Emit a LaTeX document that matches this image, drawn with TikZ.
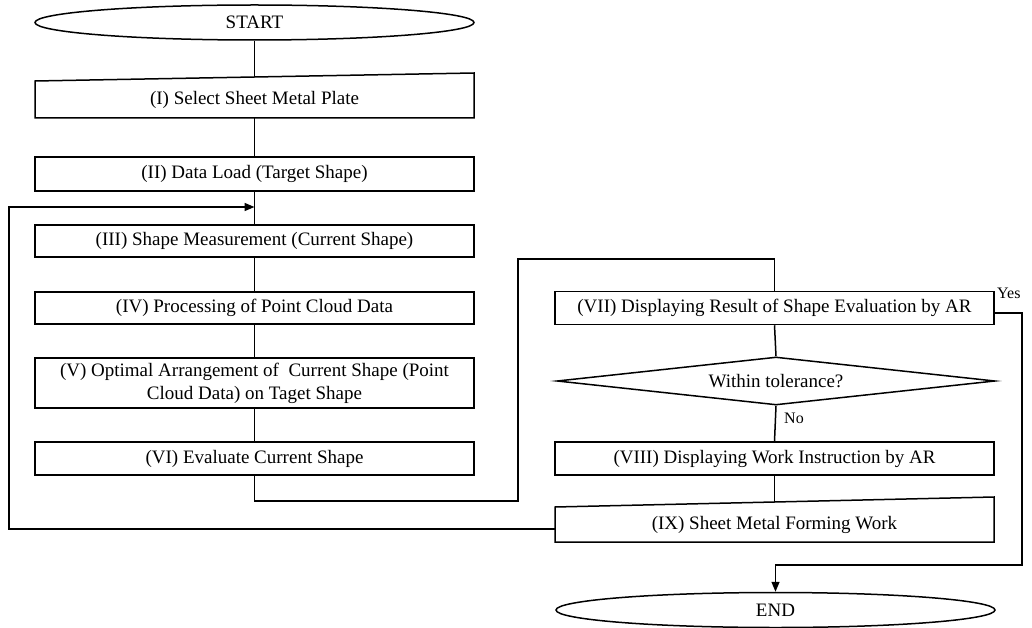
\documentclass[tikz,border=0pt]{standalone}
\usepackage{fontspec}
\setmainfont{Liberation Serif}
\usetikzlibrary{arrows.meta,shapes.geometric}
\begin{document}
\begin{tikzpicture}[x=1pt,y=-1pt,
  every node/.style={font=\fontsize{19}{23}\selectfont, inner sep=0pt},
  line/.style={line width=1.5pt, line join=miter},
  procbox/.style={draw, line width=1.5pt, rectangle, minimum width=439pt, align=center},
  term/.style={draw, line width=1.5pt, ellipse, minimum width=439pt, minimum height=35pt},
  decbox/.style={draw, line width=1.5pt, diamond, aspect=9, minimum width=438pt, minimum height=48pt},
  lbl/.style={font=\fontsize{16}{19}\selectfont}]
\useasboundingbox (0,0) rectangle (1032,628);
% left column
\node[term] (start) at (254.5,22.5) {START};
\node (b1) at (254.5,100) {(I) Select Sheet Metal Plate};
\draw[line] (35,81) -- (474,73) -- (474,118) -- (35,118) -- cycle;
\coordinate (b1top) at (254.5,77);
\coordinate (b1bot) at (254.5,118);
\node[procbox, minimum height=34pt] (b2) at (254.5,174) {(II) Data Load (Target Shape)};
\node[procbox, minimum height=32pt] (b3) at (254.5,241) {(III) Shape Measurement (Current Shape)};
\node[procbox, minimum height=32pt] (b4) at (254.5,308) {(IV) Processing of Point Cloud Data};
\node[procbox, minimum height=50pt] (b5) at (254.5,383) {(V) Optimal Arrangement of\ \ Current Shape (Point\\Cloud Data) on Taget Shape};
\node[procbox, minimum height=33pt] (b6) at (254.5,458.5) {(VI) Evaluate Current Shape};
% right column
\node[procbox, minimum height=33pt] (b7) at (774.5,308) {(VII) Displaying Result of Shape Evaluation by AR};
\node[decbox] (dec) at (776,381) {Within tolerance?};
\node[procbox, minimum height=33pt] (b8) at (774.5,458.5) {(VIII) Displaying Work Instruction by AR};
\node (b9) at (774.5,525) {(IX) Sheet Metal Forming Work};
\draw[line] (555,507) -- (994,497) -- (994,542) -- (555,542) -- cycle;
\coordinate (b9top) at (774.5,502);
\coordinate (b9w) at (555,529);
\node[term] (end) at (775.5,610) {END};
% connectors
\coordinate (m) at (254.5,207);
\coordinate (c1) at (518,501);
\coordinate (c2) at (518,259);
\coordinate (y1) at (1022,565);
\coordinate (l1) at (9,529);
\coordinate (l2) at (9,207);
\draw[line] (start.south) -- (b1top);
\draw[line] (b1bot) -- (b2.north);
\draw[line] (b2.south) -- (b3.north);
\draw[line] (b3.south) -- (b4.north);
\draw[line] (b4.south) -- (b5.north);
\draw[line] (b5.south) -- (b6.north);
\draw[line] (b6.south) |- (c1) -- (c2) -| (b7.north);
\draw[line] (b7.south) -- (dec.north);
\draw[line] (dec.south) -- (b8.north);
\draw[line] (b8.south) -- (b9top);
\draw[line, -{Triangle[length=10pt,width=8pt]}] ([yshift=-5pt]b7.east) -| (y1) -| (end.north);
\draw[line, -{Triangle[length=10pt,width=8pt]}] (b9w) -- (l1) -- (l2) -- (m);
\node[lbl, anchor=west] (yes) at (997,293) {Yes};
\node[lbl, anchor=west] (no) at (784,418) {No};
\end{tikzpicture}
\end{document}
